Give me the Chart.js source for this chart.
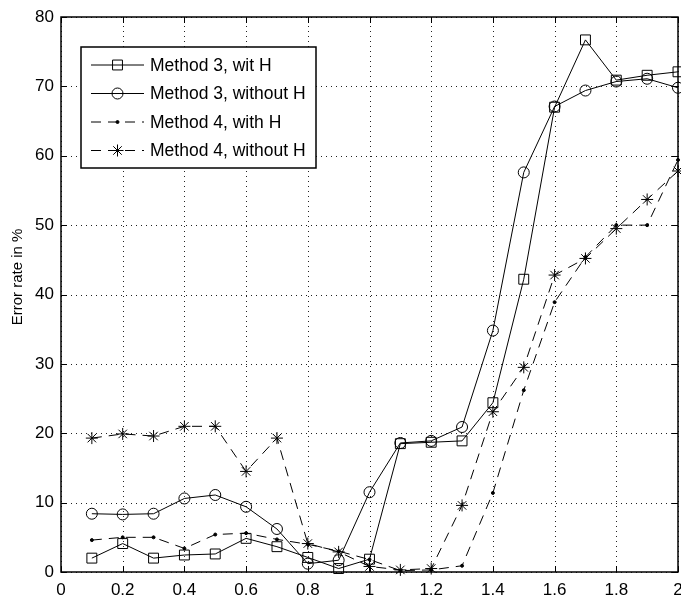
<!DOCTYPE html>
<html>
<head>
<meta charset="utf-8">
<script src="https://cdn.jsdelivr.net/npm/chart.js@4"></script>
<style>
  body { margin: 0; background: #fff; }
  #chart { display: block; }
</style>
</head>
<body>
<canvas id="chart" width="681" height="600"></canvas>
<script>
const xValues = [0.1, 0.2, 0.3, 0.4, 0.5, 0.6, 0.7, 0.8, 0.9, 1.0, 1.1, 1.2, 1.3, 1.4, 1.5, 1.6, 1.7, 1.8, 1.9, 2.0];
const m3WithH    = [2.0, 4.1, 2.0, 2.45, 2.6, 4.85, 3.65, 2.1, 0.5, 1.85, 18.5, 18.7, 18.9, 24.4, 42.2, 67.0, 76.7, 70.9, 71.6, 72.1];
const m3WithoutH = [8.4, 8.3, 8.4, 10.6, 11.1, 9.4, 6.2, 1.2, 1.7, 11.5, 18.6, 18.9, 20.9, 34.8, 57.6, 67.1, 69.4, 70.7, 71.1, 69.8];
const m4WithH    = [4.6, 5.0, 5.0, 3.4, 5.4, 5.6, 4.7, 4.0, 3.0, 1.8, 0.2, 0.3, 0.9, 11.4, 26.2, 38.9, 45.4, 50.0, 50.0, 59.4];
const m4WithoutH = [19.3, 19.9, 19.6, 21.0, 21.0, 14.5, 19.3, 4.1, 2.9, 0.8, 0.3, 0.5, 9.6, 23.1, 29.5, 42.8, 45.2, 49.5, 53.7, 57.8];
const seriesNames = ['Method 3, wit H', 'Method 3, without H', 'Method 4, with H', 'Method 4, without H'];
const yTitle = 'Error rate in %';

const font = "'Liberation Sans', Arial, sans-serif";

function pts(ys) {
    return ys.map((y, i) => ({x: xValues[i], y: y}));
}

// dotted grid behind the lines
const gridPlugin = {
    id: 'dotgrid',
    beforeDatasetsDraw(chart) {
        const ctx = chart.ctx;
        const a = chart.chartArea;
        const xs = chart.scales.x, ys = chart.scales.y;
        ctx.save();
        ctx.strokeStyle = '#222';
        ctx.lineWidth = 1;
        ctx.setLineDash([1, 4]);
        ctx.beginPath();
        xs.ticks.forEach(t => {
            const px = Math.round(xs.getPixelForValue(t.value)) + 0.5;
            ctx.moveTo(px, a.bottom); ctx.lineTo(px, a.top);
        });
        ys.ticks.forEach(t => {
            const py = Math.round(ys.getPixelForValue(t.value)) + 0.5;
            ctx.moveTo(a.left, py); ctx.lineTo(a.right, py);
        });
        ctx.stroke();
        ctx.restore();
    }
};

// frame, inward ticks, y title and boxed legend like the original figure
const framePlugin = {
    id: 'frame',
    afterDatasetsDraw(chart) {
        const ctx = chart.ctx;
        const a = chart.chartArea;
        const xs = chart.scales.x, ys = chart.scales.y;
        ctx.save();
        ctx.strokeStyle = '#000';
        ctx.lineWidth = 1;
        ctx.setLineDash([]);
        ctx.beginPath();
        xs.ticks.forEach(t => {
            const px = Math.round(xs.getPixelForValue(t.value)) + 0.5;
            ctx.moveTo(px, a.bottom); ctx.lineTo(px, a.bottom - 6);
            ctx.moveTo(px, a.top); ctx.lineTo(px, a.top + 6);
        });
        ys.ticks.forEach(t => {
            const py = Math.round(ys.getPixelForValue(t.value)) + 0.5;
            ctx.moveTo(a.left, py); ctx.lineTo(a.left + 6, py);
            ctx.moveTo(a.right, py); ctx.lineTo(a.right - 6, py);
        });
        ctx.stroke();
        ctx.lineWidth = 1.5;
        ctx.strokeRect(a.left, a.top, a.right - a.left, a.bottom - a.top);

        // y axis title
        ctx.save();
        ctx.translate(18, 277);
        ctx.rotate(-Math.PI / 2);
        ctx.font = '15px ' + font;
        ctx.fillStyle = '#000';
        ctx.textAlign = 'center';
        ctx.textBaseline = 'middle';
        ctx.fillText(yTitle, 0, 0);
        ctx.restore();

        // legend
        const lx = a.left + 20, ly = a.top + 30, lw = 235, lh = 121;
        ctx.fillStyle = '#fff';
        ctx.fillRect(lx, ly, lw, lh);
        ctx.lineWidth = 1.5;
        ctx.strokeRect(lx, ly, lw, lh);
        ctx.font = '17.5px ' + font;
        ctx.textBaseline = 'middle';
        ctx.textAlign = 'left';
        chart.data.datasets.forEach((ds, i) => {
            const cy = ly + 18 + i * 28.5;
            ctx.lineWidth = 1;
            ctx.strokeStyle = '#000';
            ctx.setLineDash(ds.borderDash || []);
            ctx.beginPath();
            ctx.moveTo(lx + 10, cy); ctx.lineTo(lx + 63, cy);
            ctx.stroke();
            ctx.setLineDash([]);
            ctx.fillStyle = ds.backgroundColor;
            Chart.helpers.drawPoint(ctx, {
                pointStyle: ds.pointStyle, radius: ds.pointRadius, borderWidth: 1, rotation: 0
            }, lx + 36.5, cy);
            ctx.fillStyle = '#000';
            ctx.fillText(ds.label, lx + 69, cy + 1);
        });
        ctx.restore();
    }
};

new Chart(document.getElementById('chart'), {
    type: 'line',
    data: {
        datasets: [{
            label: seriesNames[0],
            data: pts(m3WithH),
            borderColor: '#000', backgroundColor: 'rgba(0,0,0,0)',
            borderWidth: 1, pointStyle: 'rect', pointRadius: 7, pointBorderWidth: 1, clip: false
        }, {
            label: seriesNames[1],
            data: pts(m3WithoutH),
            borderColor: '#000', backgroundColor: 'rgba(0,0,0,0)',
            borderWidth: 1, pointStyle: 'circle', pointRadius: 5.5, pointBorderWidth: 1, clip: false
        }, {
            label: seriesNames[2],
            data: pts(m4WithH),
            borderColor: '#000', backgroundColor: '#000',
            borderWidth: 1, borderDash: [10, 7], pointStyle: 'circle', pointRadius: 1.5, pointBorderWidth: 1, clip: false
        }, {
            label: seriesNames[3],
            data: pts(m4WithoutH),
            borderColor: '#000', backgroundColor: 'rgba(0,0,0,0)',
            borderWidth: 1, borderDash: [10, 7], pointStyle: 'star', pointRadius: 6, pointBorderWidth: 1, clip: false
        }]
    },
    options: {
        responsive: false,
        animation: false,
        layout: {autoPadding: false, padding: {top: 17, right: 3, left: 0, bottom: 0}},
        plugins: {legend: {display: false}, tooltip: {enabled: false}},
        elements: {line: {tension: 0}},
        scales: {
            x: {
                type: 'linear', min: 0, max: 2,
                ticks: {
                    stepSize: 0.2, color: '#000', padding: 8,
                    font: {family: font, size: 17},
                    maxRotation: 0, autoSkip: false,
                    callback: v => String(+v.toFixed(1))
                },
                grid: {display: false, drawTicks: false, tickLength: 0},
                border: {display: false},
                afterFit: s => { s.height = 28; s.paddingLeft = 0; s.paddingRight = 0; }
            },
            y: {
                min: 0, max: 80,
                ticks: {
                    stepSize: 10, color: '#000', padding: 7,
                    font: {family: font, size: 17}
                },
                grid: {display: false, drawTicks: false, tickLength: 0},
                border: {display: false},
                afterFit: s => { s.width = 61; s.paddingTop = 0; s.paddingBottom = 0; }
            }
        }
    },
    plugins: [gridPlugin, framePlugin]
});
</script>
</body>
</html>
